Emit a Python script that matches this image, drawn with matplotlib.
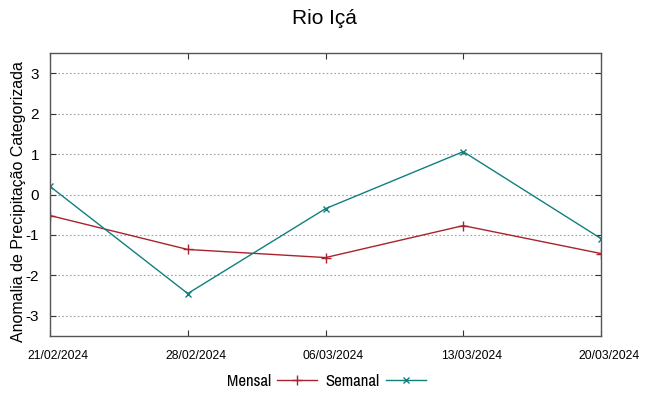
import matplotlib
matplotlib.use("Agg")
import matplotlib.pyplot as plt
import matplotlib.dates as mdates
from datetime import datetime

dates = ["21/02/2024", "28/02/2024", "06/03/2024", "13/03/2024", "20/03/2024"]
mensal = [-0.52, -1.36, -1.56, -0.77, -1.46]
semanal = [0.20, -2.45, -0.35, 1.06, -1.09]
yticks = [-3, -2, -1, 0, 1, 2, 3]

plt.rcParams['font.family'] = ["Liberation Sans", "DejaVu Sans"]
narrow = ["Archivo Narrow", "PT Sans Narrow", "Liberation Sans", "DejaVu Sans"]

x = [datetime.strptime(d, "%d/%m/%Y") for d in dates]

fig = plt.figure(figsize=(6.49, 3.96), dpi=100)
ax = fig.add_axes([50/649, 1-336/396, (601-50)/649, (336-53)/396])

red = "#a8232d"
teal = "#107f80"
ax.plot(x, mensal, color=red, lw=1.0, marker='+', ms=7, mew=1.0, label="Mensal")
ax.plot(x, semanal, color=teal, lw=1.0, marker='x', ms=5, mew=1.0, label="Semanal")

ax.set_xlim(x[0], x[-1])
ax.set_ylim(-3.5, 3.5)
ax.set_yticks(yticks)
ax.set_yticklabels([str(v) for v in yticks], fontsize=11)
ax.set_xticks(x)
ax.set_xticklabels([])
px = 72 / fig.dpi
for xi, d in zip(x, dates):
    ax.annotate(d, xy=(mdates.date2num(xi), 0), xycoords=ax.get_xaxis_transform(),
                xytext=(8 * px, -14 * px), textcoords='offset points',
                ha='center', va='top', fontsize=8.7, annotation_clip=False)
ax.tick_params(axis='both', direction='in', length=4, color='#333333',
               top=True, right=True, width=0.8)
ax.tick_params(axis='y', pad=8)
ax.grid(axis='y', linestyle=(0, (1.5, 2)), color='#a0a0a0', lw=0.8)
for s in ax.spines.values():
    s.set_color('#555555')
    s.set_linewidth(1.0)

ax.set_ylabel("Anomalia de Precipitação Categorizada", fontsize=11.5)
ax.yaxis.set_label_coords((26.5-50)/551, (336-201.5)/283)
fig.text(0.5, 1-18/396, "Rio Içá", ha='center', va='center', fontsize=15)

leg = fig.legend(loc='center', bbox_to_anchor=(326.5/649, 1-381/396), ncol=2,
                 markerfirst=False, frameon=False,
                 handlelength=2.4, columnspacing=0.5, handletextpad=0.36,
                 prop={'family': narrow, 'size': 12})

fig.savefig("out.png", dpi=100)
